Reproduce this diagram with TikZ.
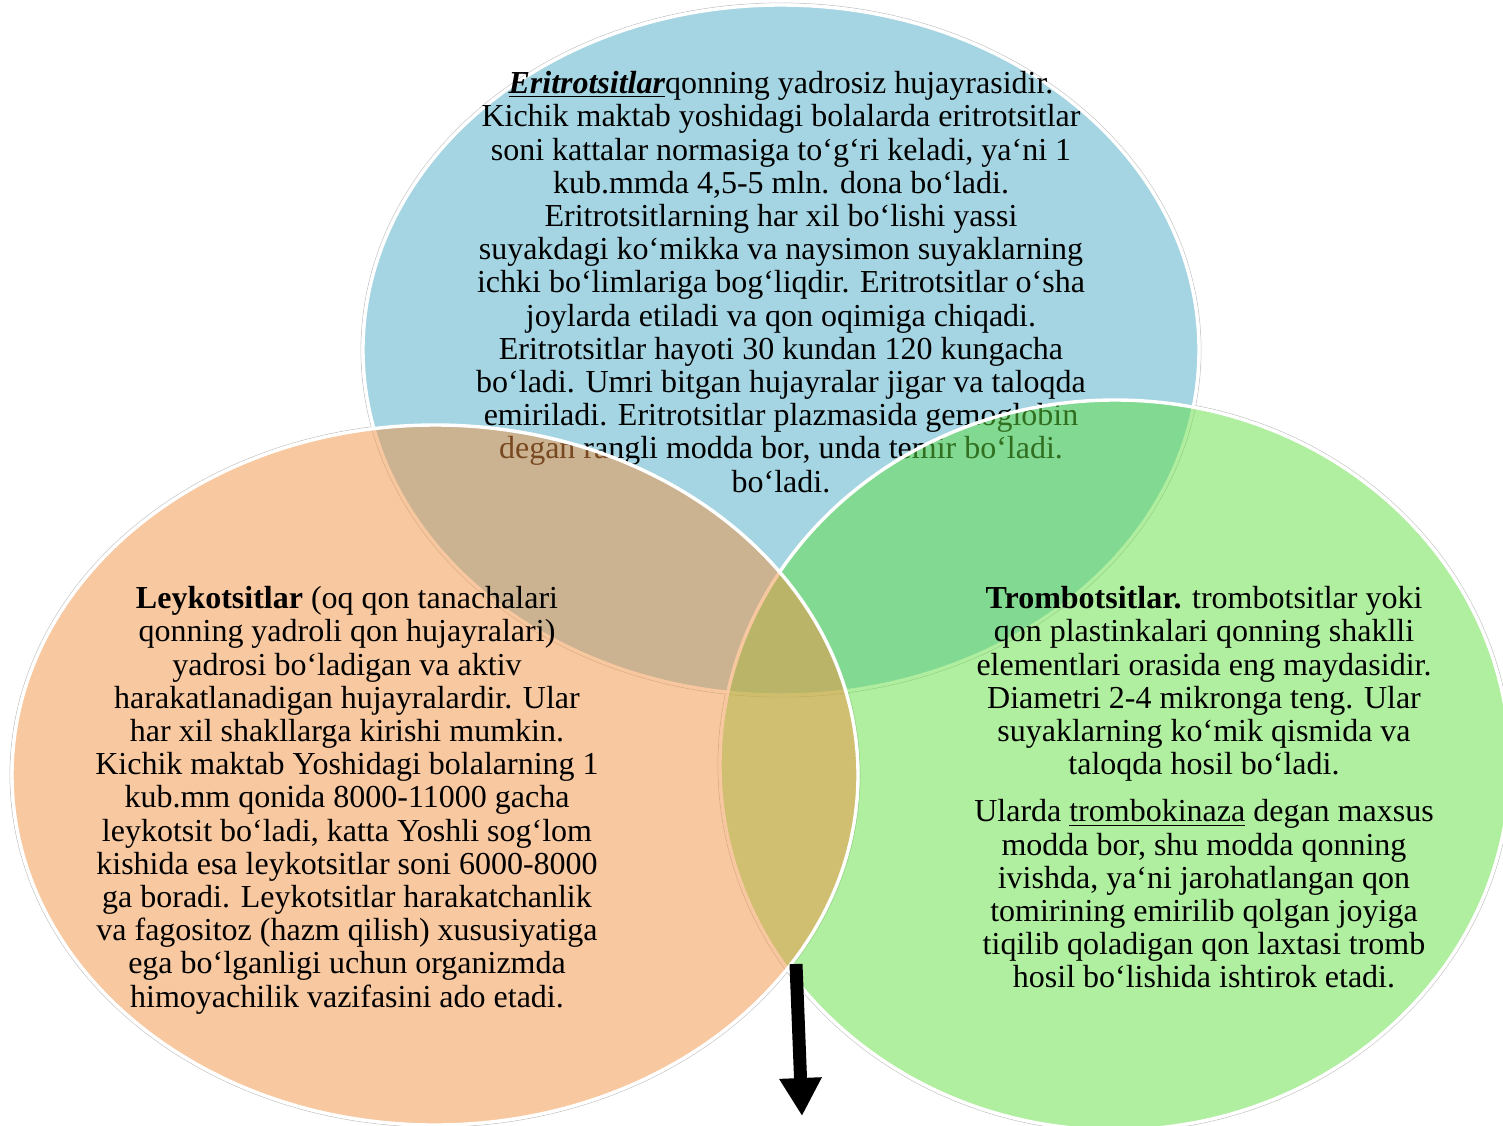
\documentclass[tikz,border=0pt]{standalone}
\usepackage{fontspec}
\setmainfont{Liberation Serif}
\usetikzlibrary{shapes.geometric,arrows.meta}
\definecolor{eribl}{RGB}{165,213,226}
\definecolor{leyor}{RGB}{241,145,65}
\definecolor{trogr}{RGB}{97,221,65}
\begin{document}
\begin{tikzpicture}[x=0.5pt,y=-0.5pt,
  venn/.style={ellipse, inner sep=0pt, draw=white, line width=1.7pt},
  rim/.style={ellipse, inner sep=0pt, draw=gray!45, line width=0.4pt},
  txt/.style={align=center, inner sep=0pt, text=black,
    font=\fontsize{16}{16.6}\selectfont},
  bigarrow/.style={line width=6.5pt, -{Triangle[width=20pt,length=19pt]}}
]
\useasboundingbox (0,0) rectangle (1503,1125);

% faint grey outlines around the three sets
\node[rim, minimum width=420pt, minimum height=347pt] (eririm) at (781,350) {};
\node[rim, minimum width=425pt, minimum height=352pt] (leyrim) at (435,775) {};
\node[rim, minimum width=397pt, minimum height=367pt] (trorim) at (1115,765) {};

% erythrocytes
\node[venn, fill=eribl, minimum width=418pt, minimum height=345pt] (eri) at (781,350) {};
\node[txt, anchor=north] (eritxt) at (781,71) {%
  \textbf{\textit{\underline{Eritrotsitlar}}}qonning yadrosiz hujayrasidir.\\
  Kichik maktab yoshidagi bolalarda eritrotsitlar\\
  soni kattalar normasiga to‘g‘ri keladi, ya‘ni 1\\
  kub.mmda 4,5-5 mln. dona bo‘ladi.\\
  Eritrotsitlarning har xil bo‘lishi yassi\\
  suyakdagi ko‘mikka va naysimon suyaklarning\\
  ichki bo‘limlariga bog‘liqdir. Eritrotsitlar o‘sha\\
  joylarda etiladi va qon oqimiga chiqadi.\\
  Eritrotsitlar hayoti 30 kundan 120 kungacha\\
  bo‘ladi. Umri bitgan hujayralar jigar va taloqda\\
  emiriladi. Eritrotsitlar plazmasida gemoglobin\\
  degan rangli modda bor, unda temir bo‘ladi.\\
  bo‘ladi.};

% thrombocytes and leukocytes, translucent
\node[venn, fill=trogr, fill opacity=0.5, minimum width=395pt, minimum height=365pt] (tro) at (1115,765) {};
\node[venn, fill=leyor, fill opacity=0.5, minimum width=423pt, minimum height=350pt] (ley) at (435,775) {};

\node[txt, anchor=north] (leytxt) at (347,586) {%
  \textbf{Leykotsitlar} (oq qon tanachalari\\
  qonning yadroli qon hujayralari)\\
  yadrosi bo‘ladigan va aktiv\\
  harakatlanadigan hujayralardir. Ular\\
  har xil shakllarga kirishi mumkin.\\
  Kichik maktab Yoshidagi bolalarning 1\\
  kub.mm qonida 8000-11000 gacha\\
  leykotsit bo‘ladi, katta Yoshli sog‘lom\\
  kishida esa leykotsitlar soni 6000-8000\\
  ga boradi. Leykotsitlar harakatchanlik\\
  va fagositoz (hazm qilish) xususiyatiga\\
  ega bo‘lganligi uchun organizmda\\
  himoyachilik vazifasini ado etadi.};

\node[txt, anchor=north] (trotxt) at (1204,586) {%
  \textbf{Trombotsitlar.} trombotsitlar yoki\\
  qon plastinkalari qonning shaklli\\
  elementlari orasida eng maydasidir.\\
  Diametri 2-4 mikronga teng. Ular\\
  suyaklarning ko‘mik qismida va\\
  taloqda hosil bo‘ladi.\\[7pt]
  Ularda \underline{trombokinaza} degan maxsus\\
  modda bor, shu modda qonning\\
  ivishda, ya‘ni jarohatlangan qon\\
  tomirining emirilib qolgan joyiga\\
  tiqilib qoladigan qon laxtasi tromb\\
  hosil bo‘lishida ishtirok etadi.};

% downward arrow from the lower meeting point
\coordinate (arrstart) at (796,964);
\coordinate (arrend) at (802,1116);
\draw[bigarrow] (arrstart) -- (arrend);
\end{tikzpicture}
\end{document}
